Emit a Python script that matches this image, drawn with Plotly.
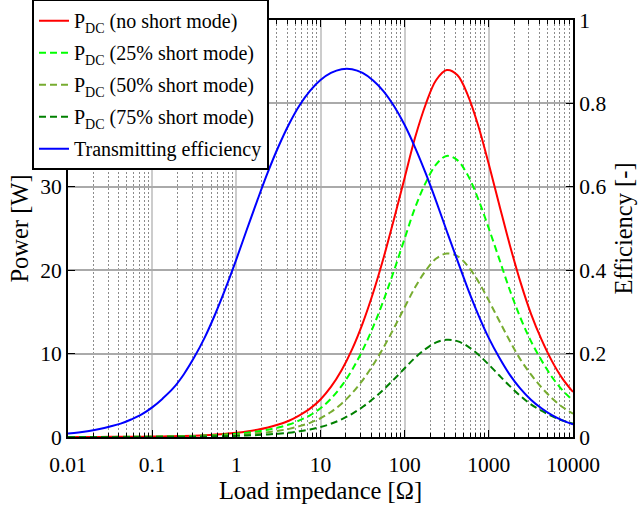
import plotly.graph_objects as go

# Load impedance sample points [Ohm] (eighth-decade spacing, 0.01 .. 10000)
load_ohm = [0.01, 0.0133, 0.0178, 0.0237, 0.0316, 0.0422, 0.0562, 0.075,
            0.1, 0.133, 0.178, 0.237, 0.316, 0.422, 0.562, 0.75,
            1, 1.33, 1.78, 2.37, 3.16, 4.22, 5.62, 7.5,
            10, 13.3, 17.8, 23.7, 31.6, 42.2, 56.2, 75,
            100, 133, 178, 237, 316, 422, 562, 750,
            1000, 1334, 1778, 2371, 3162, 4217, 5623, 7499, 10000]

# DC output power [W]
p_no_short = [0.005, 0.007, 0.009, 0.012, 0.016, 0.022, 0.029, 0.039,
              0.052, 0.069, 0.092, 0.123, 0.163, 0.218, 0.29, 0.385,
              0.51, 0.67, 0.88, 1.15, 1.5, 1.95, 2.6, 3.4,
              4.5, 6.0, 8.0, 10.5, 13.6, 17.3, 21.5, 26.2,
              31.1, 35.9, 39.9, 42.8, 44.0, 43.4, 41.0, 37.3,
              32.7, 27.8, 23.0, 18.6, 14.8, 11.7, 9.1, 7.0, 5.4]
p_short_25 = [0.0038, 0.0054, 0.0069, 0.0092, 0.012, 0.017, 0.022, 0.030,
              0.040, 0.053, 0.070, 0.094, 0.125, 0.167, 0.22, 0.295,
              0.39, 0.51, 0.67, 0.88, 1.15, 1.49, 1.99, 2.6,
              3.44, 4.59, 6.12, 8.03, 10.4, 13.2, 16.4, 20.0,
              23.8, 27.5, 30.5, 32.7, 33.7, 33.2, 31.4, 28.5,
              25.0, 21.3, 17.6, 14.3, 11.5, 9.2, 7.2, 5.6, 4.4]
p_short_50 = [0.0025, 0.0035, 0.0045, 0.006, 0.008, 0.011, 0.0145, 0.0195,
              0.026, 0.0345, 0.046, 0.0615, 0.0815, 0.109, 0.145, 0.193,
              0.255, 0.335, 0.44, 0.575, 0.75, 0.975, 1.3, 1.7,
              2.25, 3.0, 4.0, 5.25, 6.8, 8.65, 10.75, 13.1,
              15.55, 17.95, 19.95, 21.4, 22.0, 21.7, 20.5, 18.65,
              16.35, 13.9, 11.5, 9.3, 7.5, 5.95, 4.65, 3.6, 2.8]
p_short_75 = [0.0013, 0.0019, 0.0024, 0.0032, 0.0042, 0.0058, 0.0077, 0.0103,
              0.0138, 0.0183, 0.0244, 0.0326, 0.0432, 0.0578, 0.0769, 0.102,
              0.135, 0.178, 0.233, 0.305, 0.40, 0.52, 0.69, 0.90,
              1.19, 1.59, 2.12, 2.78, 3.6, 4.58, 5.7, 6.94,
              8.24, 9.51, 10.57, 11.34, 11.66, 11.5, 10.87, 9.88,
              8.67, 7.37, 6.1, 4.93, 3.92, 3.15, 2.5, 1.98, 1.6]

# Transmitting efficiency [-]
efficiency = [0.0085, 0.011, 0.0145, 0.019, 0.025, 0.032, 0.042, 0.054,
              0.071, 0.092, 0.117, 0.150, 0.191, 0.239, 0.295, 0.358,
              0.426, 0.497, 0.568, 0.635, 0.696, 0.75, 0.795, 0.830,
              0.856, 0.873, 0.882, 0.882, 0.873, 0.855, 0.829, 0.793,
              0.748, 0.694, 0.632, 0.565, 0.494, 0.424, 0.356, 0.293,
              0.237, 0.190, 0.149, 0.116, 0.0895, 0.0688, 0.0524, 0.0398, 0.0302]

decade_vals = [0.01, 0.1, 1, 10, 100, 1000, 10000]
decade_text = ["0.01", "0.1", "1", "10", "100", "1000", "10000"]
minor_vals = [m * d for d in [0.01, 0.1, 1, 10, 100, 1000] for m in range(2, 10)]

power_ticks = [0, 10, 20, 30, 40, 50]
eff_ticks = [0, 0.2, 0.4, 0.6, 0.8, 1]
eff_text = ["0", "0.2", "0.4", "0.6", "0.8", "1"]

FONT = "Liberation Serif, Times New Roman, serif"

fig = go.Figure()

power_series = [
    ("P<sub>DC</sub> (no short mode)", p_no_short, "#ff0000", "solid"),
    ("P<sub>DC</sub> (25% short mode)", p_short_25, "#00ff00", "7px,4px"),
    ("P<sub>DC</sub> (50% short mode)", p_short_50, "#77ac30", "7px,4px"),
    ("P<sub>DC</sub> (75% short mode)", p_short_75, "#008000", "7px,4px"),
]
for i, (name, vals, color, dash) in enumerate(power_series):
    fig.add_trace(go.Scatter(
        x=load_ohm, y=vals, name=name, mode="lines", yaxis="y",
        legendgroup=f"g{i}",
        line=dict(color=color, width=2, dash=dash, shape="spline"),
    ))

fig.add_trace(go.Scatter(
    x=load_ohm, y=efficiency, name="Transmitting efficiency", mode="lines",
    yaxis="y2", legendgroup="g_eff",
    line=dict(color="#0000ff", width=2, shape="spline"),
))

fig.update_layout(
    width=641, height=508,
    margin=dict(l=68, r=68, t=20, b=71, autoexpand=False),
    paper_bgcolor="white", plot_bgcolor="white",
    font=dict(family=FONT, color="black", size=21.5),
    showlegend=True,
    legend=dict(
        x=-0.0713, y=1.05, xanchor="left", yanchor="top",
        bgcolor="white", bordercolor="black", borderwidth=2,
        font=dict(family=FONT, size=20, color="black"),
        itemwidth=30, tracegroupgap=3, traceorder="grouped",
    ),
    xaxis=dict(
        type="log", range=[-2, 4], automargin=False,
        tickmode="array", tickvals=decade_vals, ticktext=decade_text,
        ticks="inside", ticklen=7, tickwidth=1, tickcolor="black",
        showline=True, linewidth=2, linecolor="black", mirror="ticks",
        showgrid=True, gridcolor="#cccccc", gridwidth=2, zeroline=False,
        minor=dict(tickvals=minor_vals, ticks="inside", ticklen=4,
                   tickcolor="black", showgrid=True, gridcolor="#8c8c8c",
                   griddash="2px,2px", gridwidth=1),
        tickfont=dict(size=21.5), ticklabelstandoff=7,
        title=dict(text="Load impedance [Ω]", font=dict(size=24.5), standoff=3),
    ),
    yaxis=dict(
        range=[0, 50], automargin=False,
        tickmode="array", tickvals=power_ticks,
        ticks="inside", ticklen=7, tickwidth=1, tickcolor="black",
        showline=True, linewidth=2, linecolor="black",
        showgrid=True, gridcolor="#aaaaaa", gridwidth=2, zeroline=False,
        tickfont=dict(size=21.5),
        title=dict(text="Power [W]", font=dict(size=24.5), standoff=5),
    ),
    yaxis2=dict(
        overlaying="y", side="right", range=[0, 1], automargin=False,
        tickmode="array", tickvals=eff_ticks, ticktext=eff_text,
        ticks="inside", ticklen=7, tickwidth=1, tickcolor="black",
        showline=True, linewidth=2, linecolor="black",
        showgrid=False, zeroline=False,
        tickfont=dict(size=21.5),
        title=dict(text="Efficiency [-]", font=dict(size=24.5), standoff=9),
    ),
)

fig.write_html("out.html")
